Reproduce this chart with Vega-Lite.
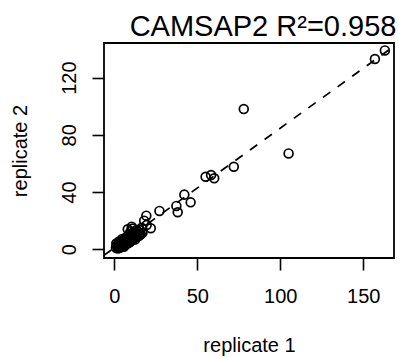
{
  "$schema": "https://vega.github.io/schema/vega-lite/v6.json",
  "width": 290,
  "height": 215,
  "autosize": {"type": "none"},
  "padding": {"left": 104, "top": 43, "right": 5, "bottom": 100},
  "background": "white",
  "title": {
    "text": "CAMSAP2 R²=0.958",
    "font": "Liberation Sans",
    "fontSize": 29,
    "fontWeight": "normal",
    "color": "black",
    "anchor": "middle",
    "frame": "group",
    "baseline": "alphabetic",
    "offset": -22,
    "dx": 14
  },
  "config": {
    "view": {"stroke": "black", "strokeWidth": 1.8},
    "axis": {
      "domain": false,
      "grid": false,
      "tickColor": "black",
      "tickWidth": 1.6,
      "tickSize": 12,
      "labelColor": "black",
      "labelFont": "Liberation Sans",
      "labelFontSize": 20,
      "titleFont": "Liberation Sans",
      "titleFontSize": 20,
      "titleFontWeight": "normal",
      "titleColor": "black",
      "labelOverlap": false,
      "labelFlush": false
    }
  },
  "layer": [
    {
      "data": {"values": [
        {"x": 78, "y": 98}, {"x": 105, "y": 67}, {"x": 72, "y": 57.7}, {"x": 55, "y": 50.7},
        {"x": 58.3, "y": 51.9}, {"x": 60.2, "y": 49.6}, {"x": 42.2, "y": 38.2}, {"x": 46, "y": 32.8},
        {"x": 37.4, "y": 30.3}, {"x": 38.2, "y": 25.9}, {"x": 27.2, "y": 26.8}, {"x": 19.3, "y": 23.5},
        {"x": 18, "y": 20}, {"x": 22, "y": 14.7}, {"x": 157, "y": 133}, {"x": 163, "y": 139},
        {"x": 8.1, "y": 14}, {"x": 10.5, "y": 15.8}, {"x": 13.4, "y": 13.4}, {"x": 15.5, "y": 13.5},
        {"x": 19.5, "y": 17}, {"x": 13.5, "y": 10}, {"x": 16.5, "y": 15}, {"x": 12, "y": 12.5},
        {"x": 17, "y": 11.5}, {"x": 11, "y": 14.5},
        {"x": 1.5, "y": 2.5}, {"x": 2, "y": 1.8}, {"x": 2.5, "y": 3.5}, {"x": 3, "y": 2.2},
        {"x": 3, "y": 4.5}, {"x": 3.5, "y": 3}, {"x": 4, "y": 1.5}, {"x": 4, "y": 5},
        {"x": 4.2, "y": 3.8}, {"x": 4.5, "y": 2.8}, {"x": 5, "y": 4.2}, {"x": 5, "y": 6},
        {"x": 5.3, "y": 3.2}, {"x": 5.5, "y": 5.1}, {"x": 6, "y": 2.6}, {"x": 6, "y": 4.8},
        {"x": 6.2, "y": 7}, {"x": 6.5, "y": 3.9}, {"x": 6.8, "y": 5.8}, {"x": 7, "y": 4.5},
        {"x": 7, "y": 8.2}, {"x": 7.3, "y": 3.5}, {"x": 7.5, "y": 6.5}, {"x": 8, "y": 5.2},
        {"x": 8, "y": 9}, {"x": 8.3, "y": 7.2}, {"x": 8.5, "y": 4.3}, {"x": 9, "y": 6},
        {"x": 9, "y": 10.5}, {"x": 9.3, "y": 8}, {"x": 9.5, "y": 5}, {"x": 10, "y": 7},
        {"x": 10, "y": 9.5}, {"x": 10.5, "y": 6.2}, {"x": 11, "y": 8.5}, {"x": 11, "y": 11.5},
        {"x": 11.5, "y": 7.5}, {"x": 12, "y": 10}, {"x": 12.3, "y": 9}, {"x": 12.5, "y": 6.8},
        {"x": 13, "y": 11}, {"x": 13.5, "y": 8.5}, {"x": 14, "y": 10}, {"x": 14.5, "y": 12},
        {"x": 15, "y": 9.5}, {"x": 15.5, "y": 11}, {"x": 16, "y": 10.5}, {"x": 2, "y": 3},
        {"x": 3.5, "y": 1.2}, {"x": 2.8, "y": 5.5}, {"x": 5.8, "y": 1.8}, {"x": 4.8, "y": 7.2},
        {"x": 9.8, "y": 12.5}, {"x": 1, "y": 1}, {"x": 2.2, "y": 0.5}, {"x": 1.2, "y": 4}
      ]},
      "mark": {"type": "point", "shape": "circle", "filled": false, "color": "black", "size": 78, "strokeWidth": 1.7, "opacity": 1},
      "encoding": {
        "x": {
          "field": "x", "type": "quantitative",
          "scale": {"domain": [-6.2, 168.5], "nice": false, "zero": false},
          "axis": {
            "values": [0, 50, 100, 150],
            "labelPadding": 16,
            "labelBaseline": "top",
            "title": "replicate 1",
            "titleX": 145,
            "titleY": 93,
            "titleAlign": "center",
            "titleBaseline": "alphabetic"
          }
        },
        "y": {
          "field": "y", "type": "quantitative",
          "scale": {"domain": [-6.1, 144.2], "nice": false, "zero": false},
          "axis": {
            "values": [0, 20, 40, 60, 80, 100, 120, 140],
            "labelExpr": "datum.value % 40 == 0 ? datum.label : ''",
            "labelAngle": -90,
            "labelAlign": "center",
            "labelBaseline": "alphabetic",
            "labelPadding": 17,
            "title": "replicate 2",
            "titleAngle": -90,
            "titleX": -77.5,
            "titleY": 107.5,
            "titleAlign": "center",
            "titleBaseline": "alphabetic"
          }
        }
      }
    },
    {
      "data": {"values": [{"x": -6.2, "y": -4.2}, {"x": 168.5, "y": 142}]},
      "mark": {"type": "line", "color": "black", "strokeWidth": 1.7, "strokeDash": [9, 9], "clip": true},
      "encoding": {
        "x": {"field": "x", "type": "quantitative"},
        "y": {"field": "y", "type": "quantitative"}
      }
    }
  ]
}
